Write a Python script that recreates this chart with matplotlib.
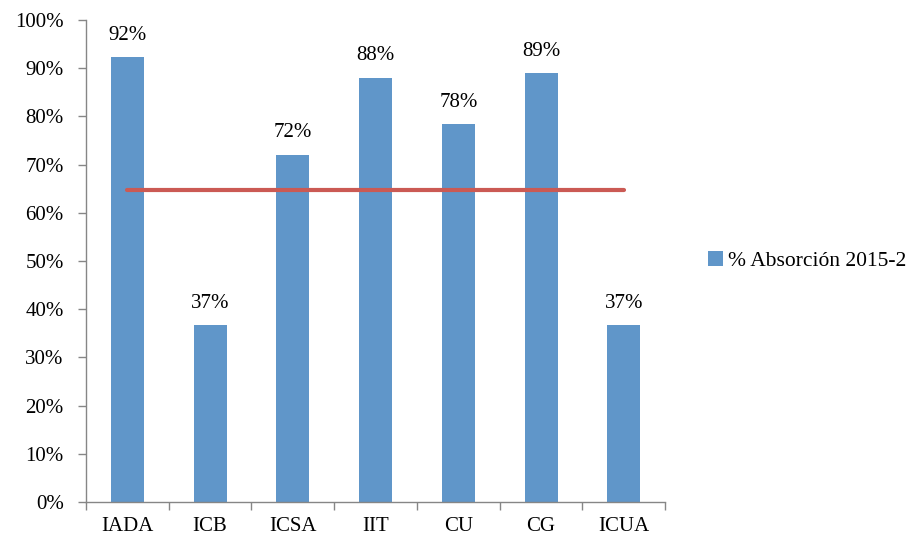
import numpy as np
import matplotlib.pyplot as plt
from matplotlib.ticker import PercentFormatter

plt.rcParams['font.family'] = ['Liberation Serif', 'DejaVu Serif']
plt.rcParams['font.size'] = 15

# ===================== 数据 =====================
categorias = ['IADA', 'ICB', 'ICSA', 'IIT', 'CU', 'CG', 'ICUA']
absorcion = [0.923, 0.367, 0.720, 0.880, 0.784, 0.890, 0.367]
etiquetas = ['92%', '37%', '72%', '88%', '78%', '89%', '37%']
promedio = [0.647] * 7

color_barra = '#6096C9'
color_linea = '#CB5A54'
color_eje = '#868686'

# ===================== 绘图 =====================
fig = plt.figure(figsize=(9.2, 5.42), dpi=100)
ax = fig.add_axes([0.0935, 0.074, 0.6295, 0.889])

x = np.arange(len(categorias))
ax.bar(x, absorcion, width=0.4, color=color_barra, label='% Absorción 2015-2', zorder=2)
ax.plot(x, promedio, color=color_linea, linewidth=3, solid_capstyle='round', zorder=3)

for xi, v, t in zip(x, absorcion, etiquetas):
    ax.annotate(t, (xi, v), xytext=(0, 9), textcoords='offset points',
                ha='center', va='bottom', fontsize=15)

ax.set_xlim(-0.5, len(categorias) - 0.5)
ax.set_ylim(0, 1.0)
ax.set_yticks(np.arange(0, 1.01, 0.1))
ax.yaxis.set_major_formatter(PercentFormatter(1.0, decimals=0))

ax.set_xticks(x)
ax.set_xticklabels(categorias)
ax.set_xticks(np.arange(-0.5, len(categorias), 1), minor=True)
ax.tick_params(axis='x', which='major', length=0, pad=11)
ax.tick_params(axis='x', which='minor', length=6, width=1, color=color_eje, direction='out')
ax.tick_params(axis='y', length=6, width=1, color=color_eje, direction='out', pad=10)

for s in ['top', 'right']:
    ax.spines[s].set_visible(False)
for s in ['left', 'bottom']:
    ax.spines[s].set_color(color_eje)
    ax.spines[s].set_linewidth(1)

ax.legend(loc='center left', bbox_to_anchor=(1.04, 0.5), frameon=False,
          handlelength=0.7, handleheight=0.7, handletextpad=0.25, fontsize=15.5)

plt.savefig('out.png', dpi=100)
